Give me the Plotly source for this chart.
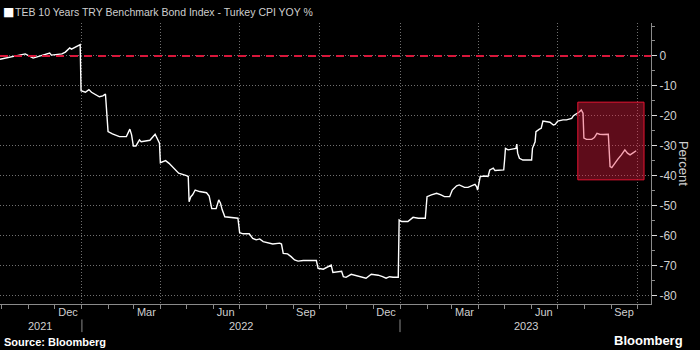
import plotly.graph_objects as go
from datetime import date, timedelta

# TEB 10Y TRY benchmark bond index return minus Turkey CPI YoY, in percent
dates = [
    "2021-09-29", "2021-10-10", "2021-10-19", "2021-10-28", "2021-11-06", "2021-11-10",
    "2021-11-20", "2021-11-25", "2021-11-27", "2021-12-09", "2021-12-13", "2021-12-18",
    "2021-12-20", "2021-12-25", "2021-12-30", "2021-12-31", "2022-01-05", "2022-01-09",
    "2022-01-12", "2022-01-21", "2022-01-25", "2022-01-28", "2022-01-31", "2022-02-05",
    "2022-02-13", "2022-02-21", "2022-02-25", "2022-02-27", "2022-03-01", "2022-03-04",
    "2022-03-08", "2022-03-10", "2022-03-20", "2022-03-26", "2022-03-29", "2022-03-31",
    "2022-04-01", "2022-04-07", "2022-04-11", "2022-04-16", "2022-04-22", "2022-05-01",
    "2022-05-03", "2022-05-04", "2022-05-06", "2022-05-08", "2022-05-11", "2022-05-16",
    "2022-05-24", "2022-05-27", "2022-05-30", "2022-06-04", "2022-06-07", "2022-06-09",
    "2022-06-11", "2022-06-14", "2022-06-27", "2022-06-29", "2022-07-01", "2022-07-05",
    "2022-07-12", "2022-07-16", "2022-07-20", "2022-07-24", "2022-07-28", "2022-08-01",
    "2022-08-08", "2022-08-16", "2022-08-18", "2022-08-20", "2022-08-25", "2022-08-29",
    "2022-09-02", "2022-09-06", "2022-09-12", "2022-09-27", "2022-09-29", "2022-10-05",
    "2022-10-10", "2022-10-14", "2022-10-16", "2022-10-22", "2022-10-26", "2022-10-28",
    "2022-10-31", "2022-11-06", "2022-11-12", "2022-11-18", "2022-11-23", "2022-11-29",
    "2022-12-07", "2022-12-12", "2022-12-16", "2022-12-20", "2022-12-24", "2022-12-30",
    "2022-12-31", "2023-01-03", "2023-01-10", "2023-01-16", "2023-01-22", "2023-01-30",
    "2023-02-01", "2023-02-06", "2023-02-12", "2023-02-17", "2023-02-21", "2023-02-27",
    "2023-03-02", "2023-03-07", "2023-03-10", "2023-03-16", "2023-03-20", "2023-03-28",
    "2023-03-30", "2023-03-31", "2023-04-03", "2023-04-08", "2023-04-12", "2023-04-14",
    "2023-04-18", "2023-04-20", "2023-04-30", "2023-05-01", "2023-05-02", "2023-05-05",
    "2023-05-09", "2023-05-14", "2023-05-15", "2023-05-16", "2023-05-18", "2023-05-22",
    "2023-06-01", "2023-06-02", "2023-06-05", "2023-06-06", "2023-06-10", "2023-06-12",
    "2023-06-14", "2023-06-18", "2023-06-22", "2023-06-26", "2023-06-28", "2023-07-01",
    "2023-07-07", "2023-07-11", "2023-07-17", "2023-07-19", "2023-07-23", "2023-07-26",
    "2023-07-28", "2023-07-30", "2023-07-31", "2023-08-03", "2023-08-09", "2023-08-12",
    "2023-08-15", "2023-08-18", "2023-08-22", "2023-08-28", "2023-08-29", "2023-08-30",
    "2023-09-01", "2023-09-04", "2023-09-08", "2023-09-12", "2023-09-16", "2023-09-19",
    "2023-09-22", "2023-09-25", "2023-09-29",
]
values = [
    -1.1, -0.4, 0.3, 0.7, -0.7, -0.3,
    0.7, 1.0, 0.3, 0.7, 1.3, 2.7,
    2.3, 3.0, 3.8, -11.6, -12.1, -11.2,
    -12.1, -13.6, -13.3, -12.7, -25.2, -26.0,
    -26.9, -26.9, -24.4, -26.3, -30.0, -30.0,
    -28.0, -28.6, -28.1, -26.1, -27.8, -29.1,
    -35.6, -34.9, -35.8, -37.4, -39.1, -39.9,
    -40.2, -48.6, -46.9, -46.3, -44.7, -45.2,
    -45.6, -46.7, -50.9, -50.9, -48.0, -49.1,
    -51.3, -53.6, -53.9, -54.1, -58.9, -59.3,
    -59.3, -60.8, -61.3, -61.0, -61.9, -62.1,
    -62.7, -62.4, -62.7, -65.8, -66.0, -66.9,
    -68.0, -68.4, -68.2, -68.2, -70.8, -71.1,
    -70.2, -69.7, -72.2, -71.9, -71.8, -73.6,
    -73.8, -72.8, -73.3, -73.6, -74.1, -72.8,
    -73.1, -73.6, -74.1, -73.6, -73.8, -73.8,
    -54.7, -55.2, -55.2, -53.8, -54.1, -54.1,
    -46.9, -46.3, -45.8, -46.3, -46.9, -46.9,
    -44.7, -43.3, -43.0, -43.8, -43.8, -42.8,
    -43.6, -44.7, -40.2, -40.0, -40.2, -38.0,
    -37.4, -38.2, -38.0, -34.7, -30.8, -31.3,
    -31.0, -30.8, -29.4, -32.4, -34.1, -34.7,
    -34.7, -30.8, -28.6, -25.2, -24.4, -24.1,
    -21.7, -21.9, -22.1, -23.0, -22.8, -21.7,
    -21.3, -21.3, -20.8, -19.9, -19.3, -18.6,
    -18.0, -19.1, -27.4, -27.8, -27.8, -27.2,
    -25.8, -26.1, -26.2, -26.1, -31.3, -36.9,
    -37.2, -35.8, -34.4, -33.0, -31.3, -32.4,
    -33.0, -32.4, -31.6,
]

# Axis settings
x_range = ["2021-09-29", "2023-10-16"]
y_range = [-82.7, 11]
y_ticks = [0, -10, -20, -30, -40, -50, -60, -70, -80]
month_labels = ["Dec", "Mar", "Jun", "Sep", "Dec", "Mar", "Jun", "Sep"]
month_label_dates = ["2021-12-16", "2022-03-16", "2022-06-15", "2022-09-15",
                     "2022-12-16", "2023-03-16", "2023-06-15", "2023-09-15"]
quarter_starts = ["2022-01-01", "2022-04-01", "2022-07-01", "2022-10-01",
                  "2023-01-01", "2023-04-01", "2023-07-01", "2023-10-01"]
years = [2021, 2022, 2023]

# Highlighted window
hl_x = ["2023-07-24", "2023-10-08"]
hl_y = [-41.3, -15.4]

title_text = "TEB 10 Years TRY Benchmark Bond Index - Turkey CPI YOY %"

FONT = "Liberation Sans, Arial, sans-serif"
TXT = "#cfcfcf"
GRID = "#707070"
AXIS = "#8a8a8a"

fig = go.Figure()

fig.add_trace(go.Scatter(
    x=dates, y=values, mode="lines",
    line=dict(color="#ffffff", width=1.4),
    showlegend=False, hoverinfo="x+y",
))
# empty trace that carries the month-label axis
fig.add_trace(go.Scatter(x=x_range, y=[None, None], xaxis="x2", mode="lines",
                         showlegend=False, hoverinfo="skip"))

# zero reference line
fig.add_shape(type="line", xref="paper", yref="y", x0=0, x1=1, y0=0, y1=0,
              line=dict(color="#d8163a", width=2, dash="8px,6px"), layer="above")

# highlight box
fig.add_shape(type="rect", xref="x", yref="y",
              x0=hl_x[0], x1=hl_x[1], y0=hl_y[0], y1=hl_y[1],
              fillcolor="rgba(235,30,65,0.40)",
              line=dict(color="rgb(230,20,50)", width=1), layer="above")

# year labels centred on each year's visible span, with separators between years
r0 = date.fromisoformat(x_range[0])
r1 = date.fromisoformat(x_range[1])
for yr in years:
    a = max(r0, date(yr, 1, 1))
    b = min(r1, date(yr, 12, 31))
    mid = a + timedelta(days=(b - a).days / 2)
    fig.add_annotation(x=mid.isoformat(), xref="x", y=-0.078, yref="paper",
                       text=str(yr), showarrow=False,
                       font=dict(family=FONT, size=11, color=TXT),
                       xanchor="center", yanchor="middle")
    if yr > years[0]:
        fig.add_shape(type="line", xref="x", yref="paper",
                      x0=date(yr, 1, 1).isoformat(), x1=date(yr, 1, 1).isoformat(),
                      y0=-0.055, y1=-0.1, line=dict(color=AXIS, width=1))

# title with legend square
fig.add_annotation(x=0, xref="paper", y=1.04, yref="paper", text="■",
                   showarrow=False, xanchor="left", yanchor="middle", xshift=1,
                   font=dict(family="DejaVu Sans", size=12, color="#ffffff"))
fig.add_annotation(x=0, xref="paper", y=1.04, yref="paper", text=title_text,
                   showarrow=False, xanchor="left", yanchor="middle", xshift=13,
                   font=dict(family=FONT, size=10.5, color=TXT))

# y-axis title
fig.add_annotation(x=1.05, xref="paper", y=0.5, yref="paper", text="Percent",
                   textangle=90, showarrow=False, xanchor="center", yanchor="middle",
                   font=dict(family=FONT, size=13, color=TXT))

# footer
fig.add_annotation(x=0, xref="paper", y=-0.134, yref="paper",
                   text="<b>Source: Bloomberg</b>", showarrow=False,
                   xanchor="left", yanchor="middle", xshift=2,
                   font=dict(family=FONT, size=11, color="#ffffff"))
fig.add_annotation(x=1.052, xref="paper", y=-0.13, yref="paper",
                   text="<b>Bloomberg</b>", showarrow=False,
                   xanchor="right", yanchor="middle",
                   font=dict(family=FONT, size=13, color="#ffffff"))

fig.update_layout(
    width=700, height=350,
    margin=dict(l=0, r=49, t=23, b=46),
    paper_bgcolor="#000000", plot_bgcolor="#000000",
    font=dict(family=FONT, color=TXT, size=11),
    xaxis=dict(
        type="date", range=x_range,
        tickmode="array", tickvals=quarter_starts, showticklabels=False,
        ticks="outside", ticklen=4, tickcolor=AXIS,
        showgrid=True, gridcolor=GRID, griddash="1px,2px", gridwidth=1,
        showline=True, linecolor=AXIS, linewidth=1, zeroline=False,
        minor=dict(tickmode="linear", tick0="2021-10-01", dtick="M1",
                   ticks="outside", ticklen=4, tickcolor=AXIS, showgrid=False),
    ),
    xaxis2=dict(
        type="date", range=x_range, overlaying="x", anchor="y", side="bottom",
        tickmode="array", tickvals=month_label_dates, ticktext=month_labels,
        ticks="", showgrid=False, zeroline=False, showline=False,
        tickfont=dict(family=FONT, size=11, color=TXT),
    ),
    yaxis=dict(
        side="right", range=y_range,
        tickmode="array", tickvals=y_ticks, ticktext=[str(v) for v in y_ticks],
        ticks="outside", ticklen=5, tickcolor="#dddddd",
        showgrid=True, gridcolor=GRID, griddash="1px,2px", gridwidth=1,
        showline=True, linecolor=AXIS, linewidth=1, zeroline=False,
        tickfont=dict(family=FONT, size=12, color=TXT),
        minor=dict(tickmode="linear", tick0=-85, dtick=5, ticks="outside",
                   ticklen=3, tickcolor=AXIS, showgrid=False),
    ),
)

fig.write_html("out.html")
